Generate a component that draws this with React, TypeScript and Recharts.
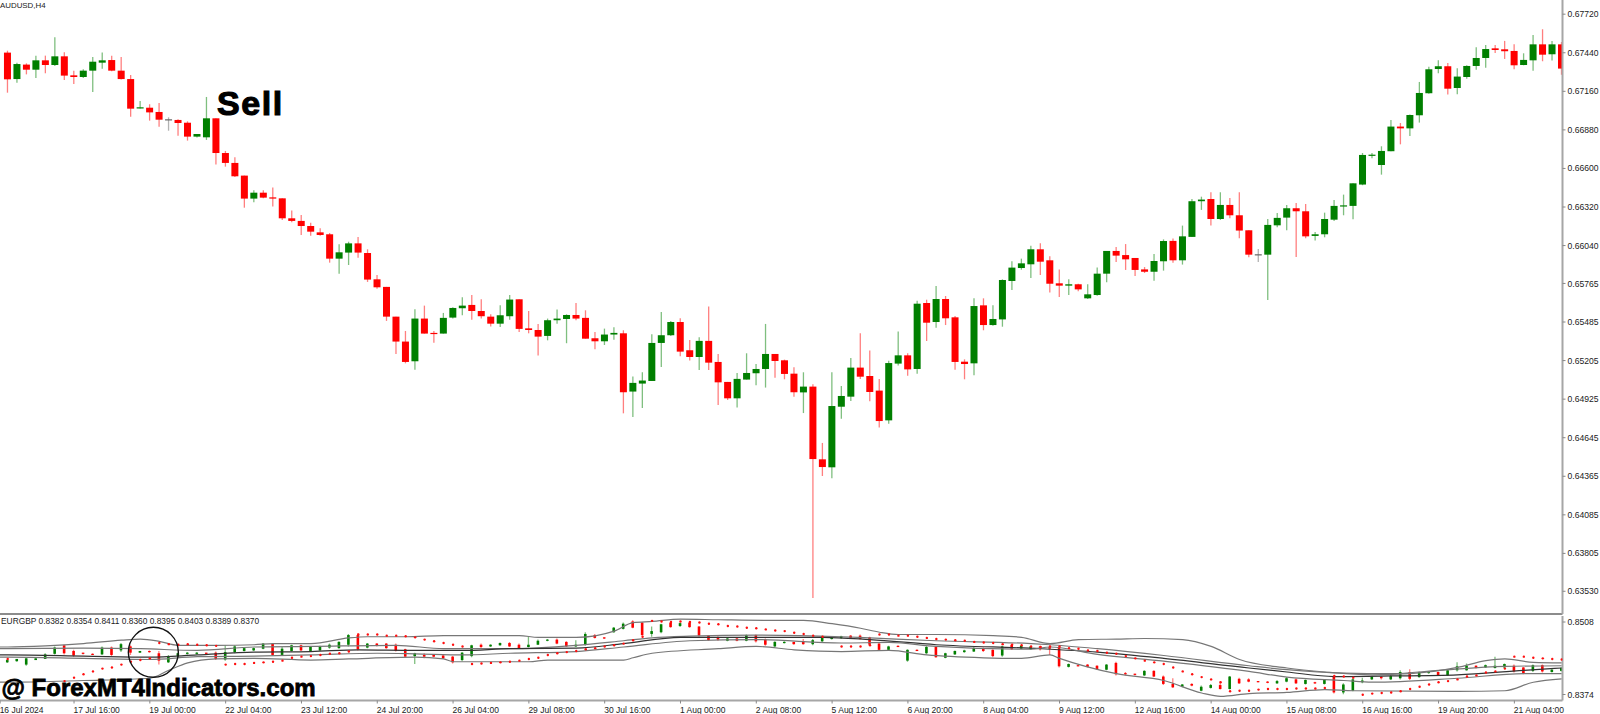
import { Bar, ComposedChart, Line, ReferenceDot, XAxis, YAxis } from 'recharts';

const FONT = '"Liberation Sans", Arial, sans-serif';

// AUDUSD H4 (in points, 1e-5)
const highs = [
  67455,67368,67363,67419,67419,67552,67443,67310,67320,67409,
  67441,67419,67409,67278,67090,67066,67075,66971,66957,66942,
  66850,67119,66964,66727,66681,66548,66441,66441,66461,66383,
  66294,66262,66206,66165,66131,66049,66068,66102,66013,65826,
  65740,65524,65420,65577,65604,65420,65551,65592,65665,65681,
  65650,65541,65606,65681,65650,65565,65471,65510,65575,65541,
  65623,65570,65413,65437,65447,65425,65089,65120,65396,65558,
  65493,65512,65355,65374,65597,65253,65050,65115,65258,65181,
  65471,65253,65212,65156,65120,65033,64607,65120,65020,65224,
  65403,65279,65071,65204,65417,65258,65640,65647,65746,65674,
  65529,65214,65657,65657,65606,65795,65926,65945,66039,66056,
  65962,65867,65795,65763,65759,65880,66001,66030,66051,65950,
  65884,65979,66085,66092,66185,66378,66395,66427,66427,66386,
  66427,66151,66015,66233,66277,66335,66349,66342,66139,66279,
  66371,66410,66492,66712,66712,66761,66952,66930,66991,67228,
  67339,67385,67366,67327,67349,67480,67496,67496,67526,67501,
  67436,67569,67610,67526,67518,
];
const lows = [
  67150,67223,67283,67257,67291,67344,67242,67213,67257,67155,
  67324,67305,67245,66976,67036,66947,66903,66874,66838,66802,
  66824,66807,66628,66613,66538,66315,66354,66383,66323,66226,
  66209,66117,66112,66112,65916,65836,65899,65952,65776,65727,
  65493,65253,65185,65139,65401,65335,65401,65510,65534,65502,
  65510,65452,65449,65502,65413,65403,65241,65352,65473,65331,
  65498,65364,65287,65318,65357,64822,64796,64861,65057,65159,
  65384,65236,65205,65137,65137,64883,64919,64864,65067,65026,
  65009,65081,65069,64943,64824,63482,64367,64350,64783,64912,
  65071,64909,64720,64747,65170,65095,65110,65347,65444,65463,
  65139,65069,65098,65425,65458,65451,65717,65865,65805,65826,
  65700,65667,65681,65708,65652,65676,65773,65921,65863,65819,
  65841,65785,65858,65916,65902,66103,66299,66185,66226,66238,
  66093,65955,65921,65645,66173,66151,65957,66093,66076,66100,
  66219,66260,66231,66478,66674,66555,66725,66775,66836,66933,
  67143,67291,67136,67138,67252,67317,67332,67438,67395,67320,
  67349,67310,67378,67383,67281,
];
const opens = [
  67441,67249,67354,67317,67385,67351,67414,67276,67264,67310,
  67368,67387,67310,67249,67036,67041,67010,66957,66952,66932,
  66831,66826,66964,66712,66640,66548,66381,66424,66390,66383,
  66238,66219,66182,66136,66122,65945,65989,66056,65986,65795,
  65740,65524,65343,65200,65510,65406,65401,65517,65585,65609,
  65565,65524,65473,65527,65650,65439,65427,65384,65498,65507,
  65536,65515,65367,65345,65394,65403,64980,65038,65057,65333,
  65389,65485,65280,65231,65348,65195,65050,64931,65067,65113,
  65144,65253,65207,65110,64974,65016,64488,64430,64870,64943,
  65154,65093,64987,64771,65183,65243,65144,65623,65485,65652,
  65519,65197,65185,65606,65463,65504,65783,65877,65904,66013,
  65933,65766,65749,65759,65657,65681,65836,66001,65971,65950,
  65867,65850,65926,66074,65933,66103,66362,66378,66233,66335,
  66260,66151,65977,65974,66187,66243,66311,66289,66110,66122,
  66228,66325,66328,66483,66693,66625,66725,66904,66891,66986,
  67146,67322,67342,67184,67264,67344,67402,67472,67465,67453,
  67351,67385,67501,67429,67501,
];
const closes = [
  67247,67358,67317,67385,67351,67414,67274,67264,67310,67375,
  67385,67310,67249,67034,67044,67007,66954,66957,66930,66831,
  66850,66964,66712,66640,66543,66381,66424,66388,66381,66238,
  66219,66182,66141,66117,65945,65991,66056,65989,65793,65737,
  65524,65343,65195,65510,65401,65401,65515,65587,65604,65565,
  65527,65473,65534,65648,65435,65427,65379,65498,65510,65536,
  65510,65364,65345,65394,65406,64975,65043,65060,65333,65389,
  65485,65270,65231,65348,65190,65047,64931,65072,65115,65144,
  65253,65202,65108,64975,65016,64490,64432,64875,64948,65154,
  65088,64977,64766,65187,65243,65141,65618,65480,65652,65512,
  65195,65180,65601,65463,65507,65790,65880,65911,66013,65923,
  65763,65749,65759,65722,65686,65836,66001,65967,65940,65863,
  65850,65928,66073,65933,66107,66362,66374,66233,66335,66260,
  66149,65974,65977,66190,66241,66311,66289,66107,66122,66233,
  66328,66332,66492,66698,66700,66727,66904,66891,66988,67148,
  67320,67342,67179,67267,67344,67402,67467,67460,67451,67349,
  67388,67501,67426,67501,67325,
];

// EURGBP lower window (1e-4)
const eurHigh = [
  8443,8443,8446,8445,8453,8465,8468,8459,8454,8453,
  8465,8465,8471,8467,8457,8458,8457,8450,8454,8455,
  8455,8454,8456,8467,8467,8463,8463,8471,8471,8464,
  8468,8468,8465,8466,8470,8474,8487,8488,8471,8471,
  8471,8470,8461,8454,8453,8451,8450,8448,8455,8468,
  8470,8469,8472,8473,8470,8482,8477,8478,8479,8474,
  8476,8490,8487,8481,8499,8507,8511,8508,8500,8505,
  8508,8507,8509,8501,8485,8483,8480,8480,8486,8486,
  8479,8474,8474,8473,8478,8478,8484,8481,8484,8485,
  8486,8482,8471,8466,8467,8460,8460,8466,8465,8454,
  8458,8459,8464,8463,8460,8466,8469,8467,8466,8466,
  8466,8465,8435,8433,8434,8432,8434,8438,8420,8417,
  8423,8423,8414,8409,8399,8400,8396,8399,8404,8413,
  8410,8409,8404,8404,8406,8411,8409,8407,8403,8407,
  8414,8400,8409,8410,8413,8413,8417,8423,8425,8421,
  8421,8421,8425,8437,8435,8432,8433,8447,8435,8433,
  8429,8433,8433,8426,8429,
];
const eurLow = [
  8436,8438,8431,8441,8443,8451,8451,8447,8451,8450,
  8450,8448,8455,8450,8454,8454,8433,8436,8447,8451,
  8451,8451,8441,8440,8453,8456,8457,8460,8448,8448,
  8456,8457,8455,8457,8461,8461,8465,8458,8462,8465,
  8461,8456,8446,8434,8444,8446,8443,8435,8439,8446,
  8462,8464,8466,8464,8461,8463,8468,8474,8469,8464,
  8464,8466,8479,8478,8489,8495,8497,8484,8482,8488,
  8498,8499,8498,8482,8475,8475,8474,8474,8474,8472,
  8466,8464,8470,8468,8468,8467,8472,8477,8478,8478,
  8477,8466,8457,8458,8464,8438,8457,8451,8445,8444,
  8450,8454,8455,8455,8446,8447,8459,8460,8459,8458,
  8450,8428,8428,8430,8428,8424,8423,8414,8414,8414,
  8413,8411,8397,8392,8393,8395,8386,8391,8389,8389,
  8399,8402,8402,8400,8399,8402,8399,8398,8399,8398,
  8382,8381,8386,8400,8406,8407,8406,8407,8406,8410,
  8417,8413,8413,8421,8422,8426,8427,8426,8427,8419,
  8416,8420,8419,8419,8421,
];
const eurOpen = [
  8437,8439,8433,8441,8443,8452,8467,8457,8454,8452,
  8451,8463,8458,8465,8454,8457,8453,8437,8448,8452,
  8452,8454,8454,8442,8455,8457,8458,8461,8470,8450,
  8457,8467,8457,8458,8463,8462,8468,8485,8463,8470,
  8470,8468,8460,8448,8450,8450,8449,8447,8441,8448,
  8468,8465,8467,8471,8468,8464,8468,8475,8477,8473,
  8465,8468,8485,8481,8490,8496,8509,8507,8487,8490,
  8507,8501,8507,8500,8484,8481,8475,8479,8475,8485,
  8477,8465,8471,8473,8474,8469,8474,8478,8480,8484,
  8484,8481,8470,8459,8466,8440,8459,8453,8464,8445,
  8451,8455,8456,8462,8459,8449,8468,8461,8460,8465,
  8464,8464,8429,8432,8433,8431,8424,8436,8418,8417,
  8414,8422,8412,8399,8394,8399,8387,8392,8397,8390,
  8408,8407,8404,8403,8400,8403,8407,8399,8402,8399,
  8413,8384,8387,8402,8407,8412,8407,8409,8420,8411,
  8418,8420,8414,8423,8423,8431,8428,8427,8428,8431,
  8428,8422,8432,8420,8422,
];
const eurClose = [
  8441,8443,8444,8444,8451,8463,8453,8449,8452,8450,
  8463,8450,8469,8454,8457,8455,8440,8448,8453,8454,
  8454,8452,8443,8455,8465,8462,8462,8470,8450,8461,
  8467,8458,8464,8465,8468,8473,8485,8460,8470,8467,
  8462,8457,8447,8453,8447,8447,8444,8437,8454,8467,
  8464,8468,8471,8465,8462,8468,8475,8477,8470,8465,
  8468,8487,8480,8479,8498,8505,8498,8485,8492,8504,
  8499,8506,8499,8484,8476,8477,8479,8475,8485,8474,
  8468,8473,8473,8469,8469,8476,8482,8481,8483,8479,
  8478,8468,8459,8465,8465,8459,8458,8464,8446,8453,
  8457,8458,8462,8457,8448,8465,8460,8466,8465,8460,
  8461,8430,8434,8431,8429,8425,8433,8416,8416,8416,
  8422,8412,8399,8393,8398,8396,8394,8397,8390,8412,
  8400,8403,8402,8401,8404,8409,8400,8406,8400,8406,
  8384,8398,8407,8405,8412,8409,8413,8420,8408,8420,
  8421,8414,8423,8430,8431,8427,8432,8431,8434,8421,
  8418,8432,8421,8424,8427,
];
// red dots over the candles
const sarDots = [
  8443,null,null,null,null,null,8404,8410,8416,8421,
  8426,8428,8433,8438,8441,8444,8471,8469,8468,8469,
  8468,8467,8466,8433,8434,8434,8436,8437,8438,8440,
  8445,8447,8448,8450,8452,8453,8456,8486,8486,8486,
  8484,8484,8483,8481,8477,8474,8471,8468,8465,8434,
  8435,8436,8437,8438,8440,8443,8445,8450,8453,8455,
  8457,8460,8462,8465,8467,8470,8476,8482,8510,8509,
  8508,8509,8508,8507,8505,8504,8501,8500,8498,8497,
  8495,8493,8492,8489,8487,8484,8482,null,8465,8465,
  8465,8467,8486,8486,8484,8484,8482,8480,8478,8477,
  8476,8475,8473,8472,8471,8469,8468,8467,8465,8464,
  8465,8465,8462,8461,8458,8457,8454,8452,8448,8444,
  8440,8437,8434,8428,8421,8416,8411,8407,8402,8386,
  8387,8387,8389,8390,8390,8390,8391,8391,8391,8392,
  8413,8412,8410,8380,8382,8383,8384,8386,8390,8394,
  8398,8402,8404,8407,8412,8414,8419,8421,8426,8447,
  8447,8445,8444,8443,8442,
];

// band lines, read at a few bars each: [bar index], [value]
const upperBars = [-1,0,4,8,12,14,16,18,22,26,28,32,36,38,42,46,50,54,56,60,64,66,68,71,75,80,84,87,90,92,94,98,104,107,110,113,117,120,124,127,130,135,139,144,148,153,156,158,161,164];
const upperBand = [8464,8464,8466,8470,8476,8478,8474,8467,8467,8468,8470,8470,8480,8482,8482,8484,8484,8484,8481,8481,8492,8507,8509,8513,8512,8511,8511,8505,8497,8490,8486,8486,8484,8481,8470,8477,8478,8479,8477,8465,8442,8427,8420,8415,8417,8428,8440,8443,8437,8436];
const lowerBars = [-1,0,8,15,17,19,22,26,32,36,43,46,47,55,57,65,66,68,75,79,83,88,93,97,103,107,110,111,117,122,126,128,131,135,139,142,153,158,161,164];
const lowerBand = [8402,8402,8405,8409,8423,8436,8443,8444,8441,8443,8446,8443,8438,8438,8441,8441,8445,8453,8461,8465,8459,8456,8458,8450,8445,8444,8450,8444,8417,8405,8383,8377,8382,8384,8389,8387,8386,8387,8402,8408];
const mid1Bars = [-1,0,8,14,20,26,32,41,46,53,60,65,68,72,79,88,91,98,108,110,115,122,131,135,141,146,151,158,164];
const mid1 = [8461,8461,8462,8461,8458,8464,8465,8467,8461,8461,8467,8475,8480,8483,8485,8482,8480,8475,8470,8468,8461,8449,8431,8424,8418,8417,8423,8430,8431];
const mid2Bars = [-1,0,8,15,20,26,32,37,43,48,53,60,65,71,79,86,91,98,109,115,122,131,135,140,146,153,160,164];
const mid2 = [8450,8450,8448,8446,8450,8455,8456,8459,8458,8458,8461,8462,8470,8481,8481,8481,8477,8468,8461,8455,8444,8427,8420,8412,8413,8415,8423,8427];
const mid3Bars = [-1,0,8,15,20,26,32,39,43,48,53,60,65,72,79,88,93,98,108,110,115,122,131,135,141,144,153,160,164];
const mid3 = [8446,8446,8444,8442,8447,8448,8450,8453,8452,8450,8453,8456,8464,8475,8477,8471,8472,8465,8460,8464,8451,8439,8421,8411,8405,8402,8409,8417,8417];

const priceTicks = [0.6772,0.6744,0.6716,0.6688,0.666,0.6632,0.6604,0.65765,0.65485,0.65205,0.64925,0.64645,0.64365,0.64085,0.63805,0.6353];
const eurTicks = [0.8508,0.8374];
const timeBars = [-0.8,7,15,23,31,39,47,55,63,71,79,87,95,103,111,119,127,135,143,151,159];
const timeLabels = ['16 Jul 2024','17 Jul 16:00','19 Jul 00:00','22 Jul 04:00','23 Jul 12:00','24 Jul 20:00','26 Jul 04:00','29 Jul 08:00','30 Jul 16:00','1 Aug 00:00','2 Aug 08:00','5 Aug 12:00','6 Aug 20:00','8 Aug 04:00','9 Aug 12:00','12 Aug 16:00','14 Aug 00:00','15 Aug 08:00','16 Aug 16:00','19 Aug 20:00','21 Aug 04:00'];

const mainData = highs.map((h, i) => ({
  i,
  high: h / 1e5,
  low: lows[i] / 1e5,
  open: opens[i] / 1e5,
  close: closes[i] / 1e5,
}));

// my readings were made against an axis about 5% too tight, this puts them on the real one
const eur = (v: number) => (8508 - (8508 - v) * 1.05) / 1e4;

const sparse = (bars: number[], values: number[], i: number) => {
  const at = bars.indexOf(i);
  return at < 0 ? null : eur(values[at]);
};

const bands = (i: number) => ({
  upper: sparse(upperBars, upperBand, i),
  lower: sparse(lowerBars, lowerBand, i),
  m1: sparse(mid1Bars, mid1, i),
  m2: sparse(mid2Bars, mid2, i),
  m3: sparse(mid3Bars, mid3, i),
});

const eurData: any[] = [
  // bar cut off by the left edge, only its band lines show
  { i: -1, ...bands(-1) },
  ...eurHigh.map((h, i) => ({
    i,
    high: eur(h),
    low: eur(eurLow[i]),
    open: eur(eurOpen[i]),
    close: eur(eurClose[i]),
    sar: sarDots[i] === null ? null : eur(sarDots[i] as number),
    ...bands(i),
  })),
];

const RED = '#ff0000';
const GREEN = '#007f00';

function Candle(props: any) {
  const { x, y, width, height, payload } = props;
  const { high, low, open, close } = payload;
  if (high == null) return null;
  const perUnit = height / (high - low);
  const top = y + (high - Math.max(open, close)) * perUnit;
  const bodyH = Math.max(Math.abs(open - close) * perUnit, 1.2);
  const color = open === close ? '#666666' : close > open ? GREEN : RED;
  const cx = x + width / 2;
  return (
    <g>
      <line x1={cx} x2={cx} y1={y} y2={y + height} stroke={color} strokeWidth={1.3} strokeOpacity={0.5} />
      <rect x={x} y={top} width={width} height={bodyH} fill={color} />
    </g>
  );
}

function TimeTick(props: any) {
  const { x, y, payload } = props;
  const at = timeBars.indexOf(payload.value);
  return (
    <text x={x - 0.5} y={y + 7} fontSize={8.5} fontFamily={FONT} fill="#222" textAnchor="start">
      {timeLabels[at]}
    </text>
  );
}

function overlay(left: number, top: number, fontSize: number, text: string) {
  return (
    <div
      style={{
        position: 'absolute',
        left,
        top,
        fontFamily: FONT,
        fontSize,
        lineHeight: 1,
        color: '#222',
        whiteSpace: 'pre',
      }}
    >
      {text}
    </div>
  );
}

export default function App() {
  return (
    <div style={{ position: 'absolute', left: 0, top: 0, width: 1600, height: 714, overflow: 'hidden', background: '#fff' }}>
      <div style={{ position: 'absolute', left: 0, top: 0 }}>
        <ComposedChart width={1600} height={615} data={mainData} margin={{ top: 0, right: 0, bottom: 0, left: 0 }}>
          <XAxis
            dataKey="i"
            type="number"
            domain={[-0.813, 164.08]}
            allowDataOverflow
            height={1}
            tick={false}
            tickLine={false}
            axisLine={{ stroke: '#8c8c8c', strokeWidth: 2 }}
          />
          <YAxis
            orientation="right"
            width={37.5}
            domain={[0.63365, 0.67823]}
            allowDataOverflow
            ticks={priceTicks}
            interval={0}
            tickFormatter={(v: number) => v.toFixed(5)}
            tick={{ fontSize: 8.6, fontFamily: FONT, fill: '#222' }}
            tickSize={3}
            tickLine={{ stroke: '#888' }}
            axisLine={{ stroke: '#a6a6a6', strokeWidth: 2 }}
          />
          <Bar dataKey={(d: any) => [d.low, d.high]} barSize={7} shape={Candle} isAnimationActive={false} />
        </ComposedChart>
      </div>

      <div style={{ position: 'absolute', left: 0, top: 615.5 }}>
        <ComposedChart width={1600} height={98.5} data={eurData} margin={{ top: 0, right: 0, bottom: 0, left: 0 }}>
          <XAxis
            dataKey="i"
            type="number"
            domain={[-0.813, 164.08]}
            allowDataOverflow
            height={14}
            ticks={timeBars}
            interval={0}
            tick={TimeTick}
            tickSize={3}
            tickLine={{ stroke: '#888' }}
            axisLine={{ stroke: '#a6a6a6', strokeWidth: 2 }}
          />
          <YAxis
            orientation="right"
            width={37.5}
            domain={[0.83629, 0.85191]}
            allowDataOverflow
            ticks={eurTicks}
            interval={0}
            tickFormatter={(v: number) => v.toFixed(4)}
            tick={{ fontSize: 8.6, fontFamily: FONT, fill: '#222' }}
            tickSize={3}
            tickLine={{ stroke: '#888' }}
            axisLine={{ stroke: '#a6a6a6', strokeWidth: 2 }}
          />
          <Line dataKey="upper" type="monotone" stroke="#777" strokeWidth={1.2} dot={false} connectNulls isAnimationActive={false} />
          <Line dataKey="lower" type="monotone" stroke="#777" strokeWidth={1.2} dot={false} connectNulls isAnimationActive={false} />
          <Line dataKey="m1" type="monotone" stroke="#777" strokeWidth={1.2} dot={false} connectNulls isAnimationActive={false} />
          <Line dataKey="m2" type="monotone" stroke="#333" strokeWidth={1.2} dot={false} connectNulls isAnimationActive={false} />
          <Line dataKey="m3" type="monotone" stroke="#777" strokeWidth={1.2} dot={false} connectNulls isAnimationActive={false} />
          <Bar dataKey={(d: any) => [d.low, d.high]} barSize={2.6} shape={Candle} isAnimationActive={false} />
          <Line dataKey="sar" stroke="none" dot={{ r: 1.2, fill: '#ff1010', stroke: 'none' }} isAnimationActive={false} />
          <ReferenceDot x={15.37} y={0.8452} r={25} fill="none" stroke="#111" strokeWidth={1.4} ifOverflow="visible" />
        </ComposedChart>
      </div>

      {overlay(0, 2, 7.9, 'AUDUSD,H4')}
      {overlay(1, 617, 8.4, 'EURGBP 0.8382 0.8354 0.8411 0.8360 0.8395 0.8403 0.8389 0.8370')}
      <div style={{ position: 'absolute', left: 217, top: 86, fontFamily: FONT, fontWeight: 700, fontSize: 34, lineHeight: 1, letterSpacing: 1.6, color: '#000', WebkitTextStroke: '1.1px #000' }}>
        Sell
      </div>
      <div style={{ position: 'absolute', left: 1.5, top: 676, fontFamily: FONT, fontWeight: 700, fontSize: 24, lineHeight: 1, color: '#000', WebkitTextStroke: '0.8px #000', whiteSpace: 'pre' }}>
        @ ForexMT4Indicators.com
      </div>
    </div>
  );
}
